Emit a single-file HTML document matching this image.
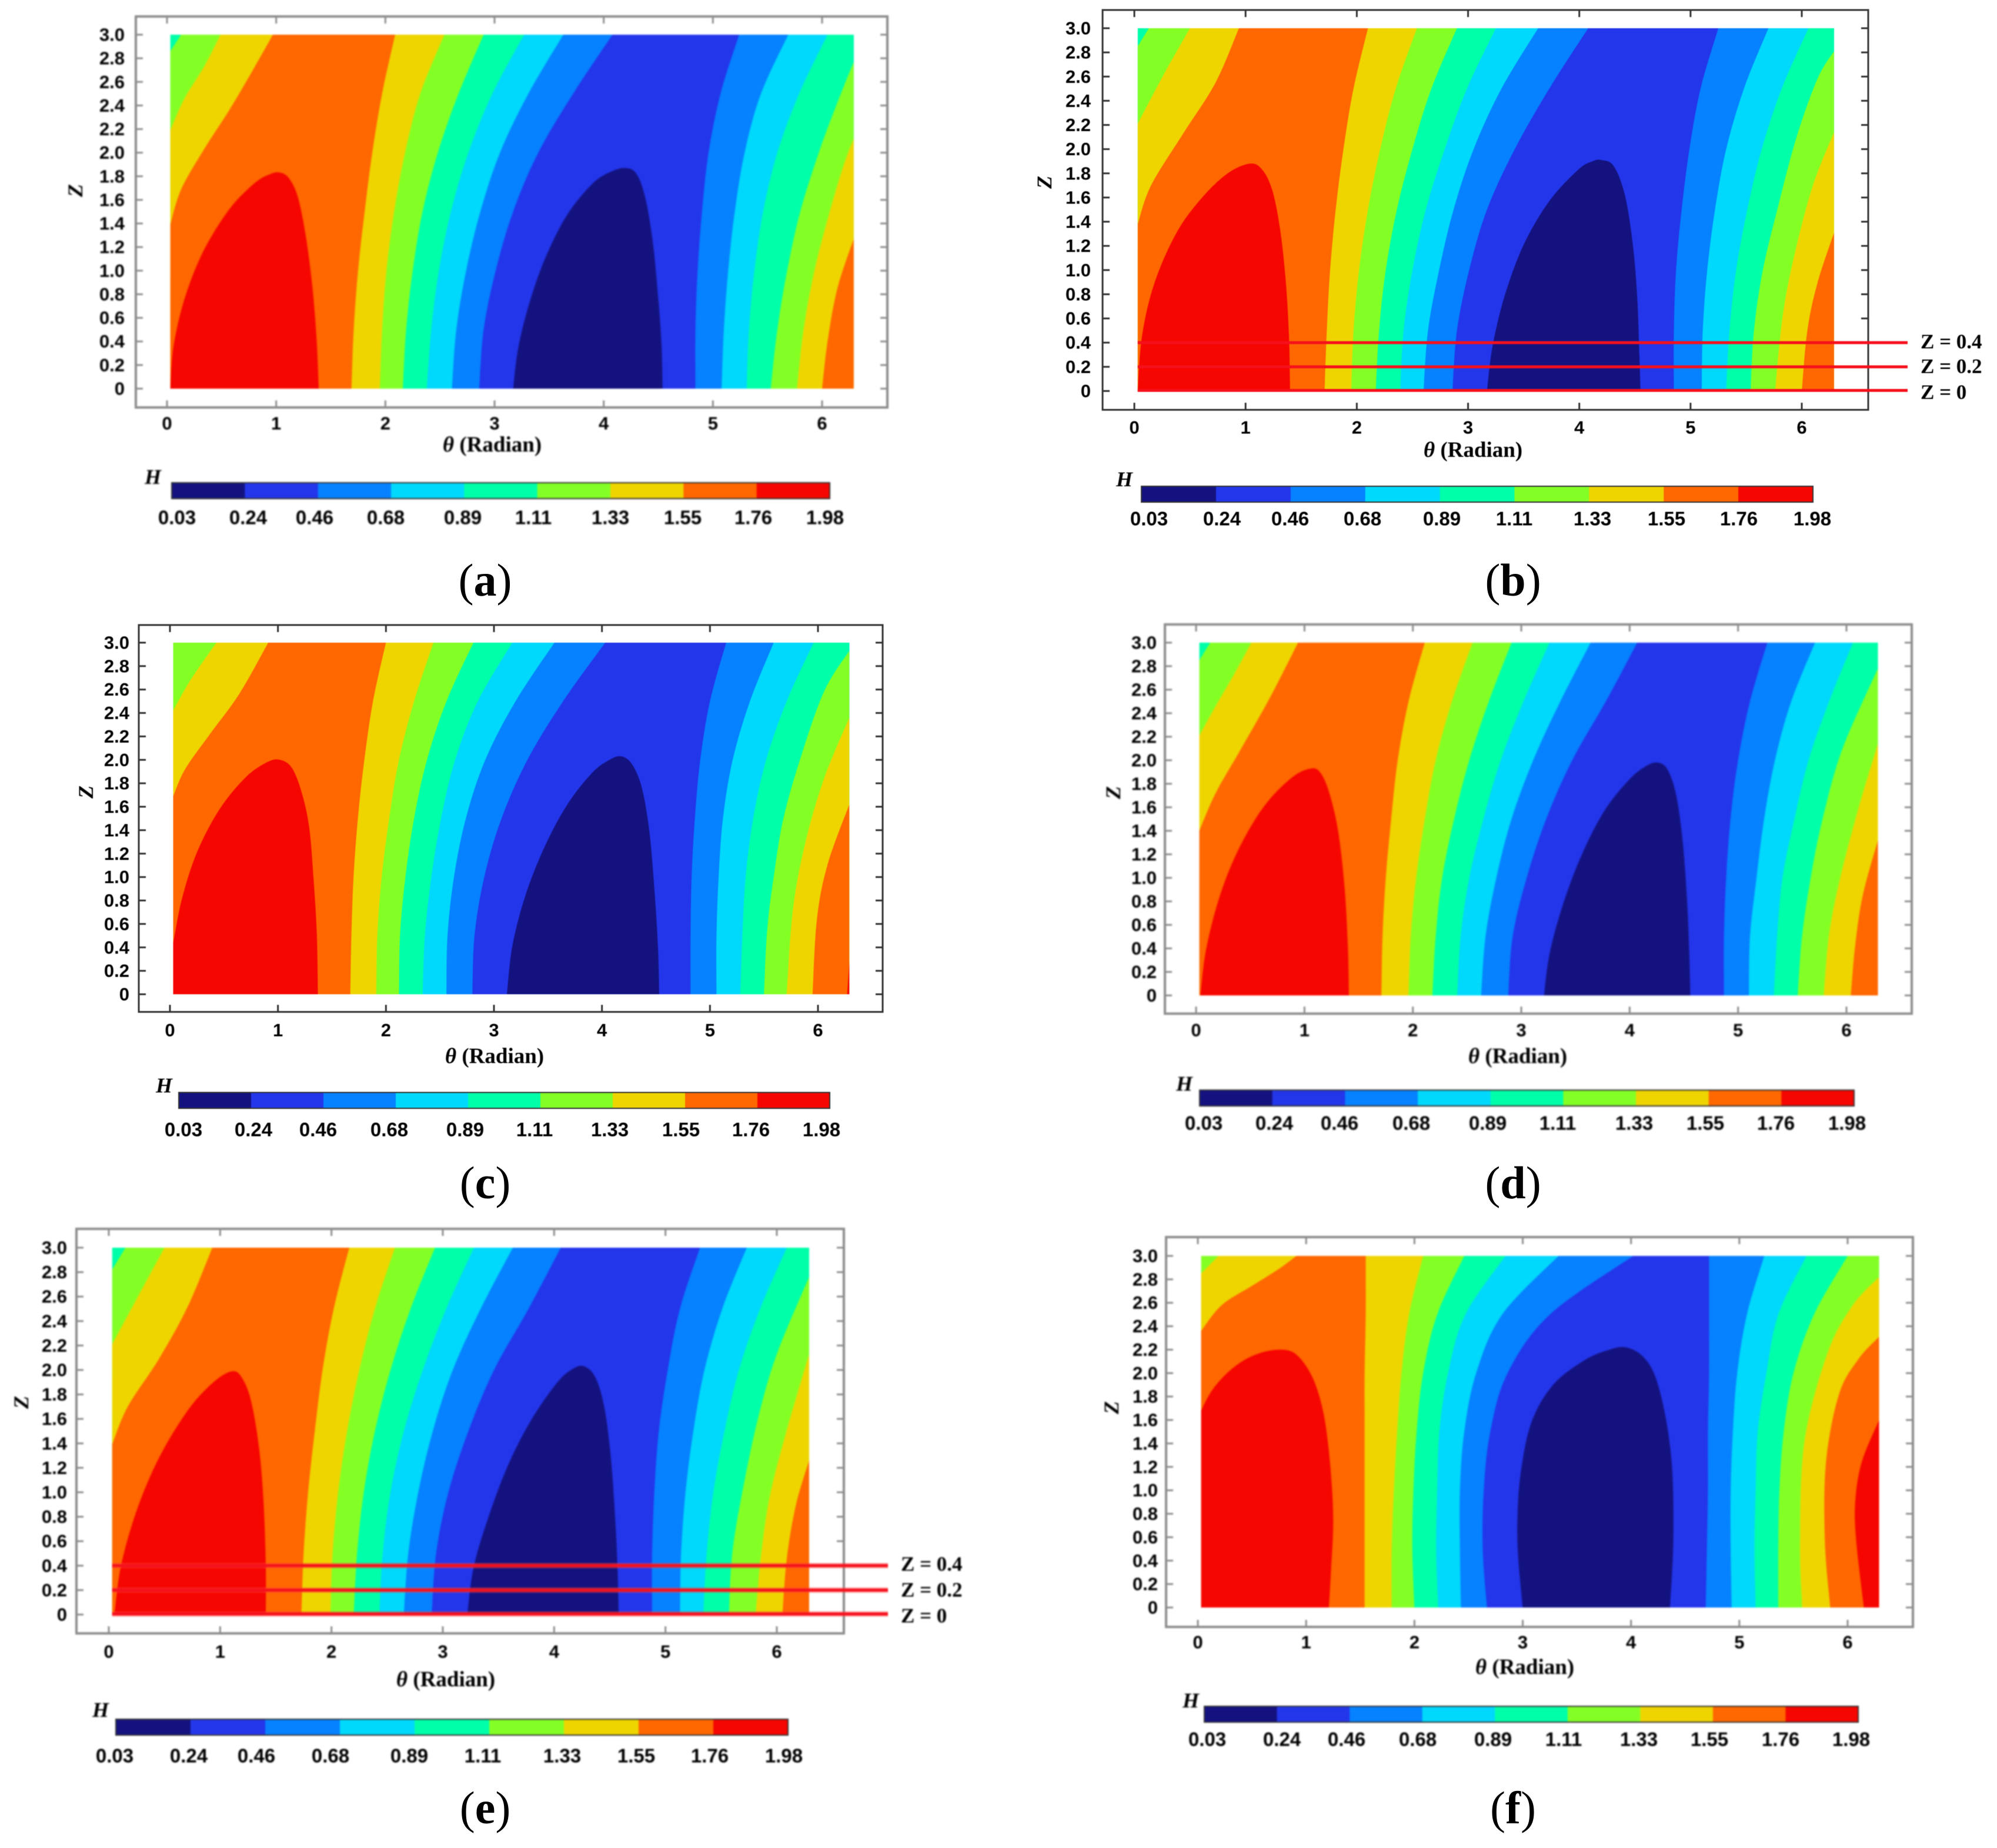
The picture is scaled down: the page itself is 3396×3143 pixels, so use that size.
<!DOCTYPE html>
<html lang="en">
<head>
<meta charset="utf-8">
<title>Film thickness contour maps H(θ, Z)</title>
<style>
html,body{margin:0;padding:0;background:#fff;}
svg{display:block;}
.tick{font:bold 31px "Liberation Sans",Arial,sans-serif;fill:#000;}
.cbl{font:bold 33px "Liberation Sans",Arial,sans-serif;fill:#000;}
.ttl{font:bold 37px "Liberation Serif","Times New Roman",serif;fill:#000;}
.ital{font:italic bold 36px "Liberation Serif","Times New Roman",serif;fill:#000;}
.cap{font:78px "Liberation Serif","Times New Roman",serif;fill:#000;}
.zl{font:bold 35px "Liberation Serif","Times New Roman",serif;fill:#000;}
</style>
</head>
<body>
<svg id="figure" xmlns="http://www.w3.org/2000/svg" width="3396" height="3143" viewBox="0 0 3396 3143">
<rect width="3396" height="3143" fill="#ffffff"/>
</svg>
<script>
/* ---------- shared scales and labels ---------- */
const zRows = [0, 0.5, 1, 1.5, 2, 2.5, 3];
const thetaTicks = [0, 1, 2, 3, 4, 5, 6];
const zTicks = [0, 0.2, 0.4, 0.6, 0.8, 1.0, 1.2, 1.4, 1.6, 1.8, 2.0, 2.2, 2.4, 2.6, 2.8, 3.0];
const colorbarLabels = ['0.03', '0.24', '0.46', '0.68', '0.89', '1.11', '1.33', '1.55', '1.76', '1.98'];
const monitorLevels = [0.4, 0.2, 0];
const monitorLabels = ['Z = 0.4', 'Z = 0.2', 'Z = 0'];
const thetaMin = 0.03, thetaMax = 6.29, zMin = 0, zMax = 3;
const bandColors = ['#14127f', '#2336ea', '#0681ff', '#00d8fc', '#00ffa9', '#84ff26', '#efd500', '#ff6700', '#f50600'];
const rightBands = [6, 5, 4, 3, 2, 1, 2, 3, 4, 5, 6, 7, 8];

/* ---------- panel (a) contours: theta at zRows, or [theta, Z] pairs ---------- */
const aLeft = [[[0.03,2.86],[0.13,3]], [[0.03,2.19],[0.16,2.46],[0.34,2.73],[0.49,3]], [[0.03,1.39],[0.13,1.69],[0.34,2.03],[0.57,2.36],[0.78,2.69],[0.97,3]]];
const aRise = [[1.69,1.71,1.75,1.81,1.88,1.97,2.09],[1.95,1.97,2.01,2.08,2.18,2.32,2.54],[2.16,2.19,2.25,2.34,2.48,2.67,2.90],[2.38,2.42,2.49,2.60,2.76,2.98,3.27],[2.61,2.65,2.74,2.87,3.05,3.31,3.63],[2.86,2.90,3.01,3.17,3.40,3.72,4.08],[4.84,4.84,4.86,4.90,4.96,5.07,5.24],[5.08,5.10,5.14,5.20,5.29,5.44,5.69],[5.31,5.33,5.38,5.46,5.59,5.79,6.05]];
const aExit = [[[5.53,0],[5.59,0.5],[5.68,1],[5.80,1.5],[5.97,2],[6.13,2.4],[6.29,2.77]], [[5.77,0],[5.83,0.5],[5.93,1],[6.07,1.5],[6.2,1.9],[6.29,2.12]], [[6.0,0],[6.05,0.4],[6.14,0.85],[6.29,1.27]]];
const aPeak = [[0.03,0],[0.06,0.36],[0.16,0.76],[0.33,1.16],[0.57,1.52],[0.80,1.74],[0.95,1.82],[1.04,1.83],[1.12,1.78],[1.20,1.62],[1.27,1.30],[1.33,0.88],[1.37,0.42],[1.39,0]];
const aTrough = [[3.17,0],[3.22,0.36],[3.33,0.76],[3.48,1.14],[3.67,1.48],[3.90,1.74],[4.07,1.84],[4.20,1.87],[4.30,1.82],[4.38,1.62],[4.45,1.24],[4.50,0.76],[4.53,0.36],[4.54,0]];

/* ---------- panel (b) ---------- */
const bLeft = [[[0.03,2.85],[0.13,3]], [[0.03,2.21],[0.26,2.61],[0.50,3]], [[0.03,1.38],[0.15,1.70],[0.44,2.13],[0.73,2.55],[0.94,3]]];
const bRise = [[1.71,1.73,1.76,1.81,1.88,1.97,2.10],[1.95,1.97,2.02,2.10,2.21,2.35,2.54],[2.17,2.20,2.26,2.36,2.50,2.67,2.90],[2.39,2.42,2.50,2.62,2.79,2.99,3.25],[2.60,2.64,2.74,2.87,3.05,3.30,3.63],[2.86,2.90,3.01,3.17,3.42,3.73,4.08],[4.85,4.85,4.87,4.92,4.99,5.09,5.25],[5.10,5.11,5.15,5.22,5.32,5.48,5.70],[5.32,5.35,5.41,5.51,5.64,5.82,6.06]];
const bExit = [[[5.54,0],[5.57,0.5],[5.65,1],[5.78,1.5],[5.95,2.09],[6.14,2.58],[6.29,2.81]], [[5.76,0],[5.83,0.63],[5.94,1.15],[6.10,1.7],[6.29,2.14]], [[6.0,0],[6.05,0.5],[6.14,0.89],[6.29,1.31]]];
const bPeak = [[0.03,0],[0.07,0.46],[0.18,0.89],[0.38,1.31],[0.61,1.6],[0.84,1.8],[1.04,1.88],[1.15,1.83],[1.24,1.66],[1.31,1.34],[1.36,0.92],[1.39,0.46],[1.40,0]];
const bTrough = [[3.17,0],[3.22,0.37],[3.33,0.79],[3.50,1.21],[3.73,1.57],[3.99,1.83],[4.12,1.90],[4.20,1.91],[4.31,1.86],[4.41,1.62],[4.48,1.22],[4.52,0.79],[4.54,0.3],[4.55,0]];

/* ---------- panel (c) ---------- */
const cLeft = [[[0.03,2.42],[0.19,2.68],[0.43,3]], [[0.03,1.69],[0.14,1.92],[0.37,2.22],[0.64,2.56],[0.91,3]]];
const cRise = [[1.67,1.68,1.70,1.74,1.80,1.88,2.0],[1.91,1.92,1.96,2.03,2.12,2.26,2.44],[2.12,2.13,2.18,2.26,2.38,2.56,2.81],[2.34,2.36,2.42,2.51,2.64,2.85,3.17],[2.56,2.57,2.63,2.74,2.92,3.20,3.56],[2.80,2.82,2.91,3.07,3.31,3.64,4.03],[4.82,4.82,4.83,4.86,4.91,5.0,5.15],[5.06,5.06,5.08,5.12,5.21,5.37,5.59],[5.28,5.30,5.33,5.40,5.52,5.71,5.96]];
const cExit = [[[5.50,0],[5.53,0.55],[5.59,1],[5.68,1.5],[5.85,2.05],[6.06,2.59],[6.29,2.93]], [[5.71,0],[5.77,0.74],[5.89,1.32],[6.06,1.85],[6.29,2.36]], [[5.95,0],[5.99,0.64],[6.09,1.11],[6.29,1.62]], [[6.27,0],[6.29,0.27]]];
const cPeak = [[-0.2,0],[-0.04,0.15],[0.03,0.44],[0.11,0.81],[0.25,1.21],[0.46,1.58],[0.70,1.85],[0.90,1.98],[1.02,2.0],[1.13,1.93],[1.22,1.72],[1.29,1.42],[1.33,0.98],[1.36,0.51],[1.37,0]];
const cTrough = [[3.12,0],[3.17,0.41],[3.29,0.84],[3.47,1.26],[3.68,1.62],[3.91,1.89],[4.07,2.0],[4.18,2.03],[4.28,1.96],[4.37,1.76],[4.44,1.38],[4.49,0.84],[4.52,0.37],[4.53,0]];

/* ---------- panel (d) ---------- */
const dLeft = [[[0.03,2.85],[0.13,3]], [[0.03,2.21],[0.18,2.46],[0.35,2.73],[0.51,3]], [[0.03,1.40],[0.18,1.72],[0.41,2.09],[0.68,2.53],[0.94,3]]];
const dRise = [[1.71,1.72,1.75,1.80,1.86,1.96,2.11],[1.96,1.98,2.03,2.11,2.21,2.36,2.55],[2.18,2.21,2.27,2.38,2.52,2.70,2.91],[2.41,2.44,2.52,2.65,2.81,3.02,3.26],[2.63,2.67,2.77,2.91,3.11,3.36,3.64],[2.88,2.92,3.05,3.23,3.47,3.78,4.07],[4.87,4.87,4.89,4.93,5.00,5.11,5.27],[5.10,5.11,5.17,5.24,5.34,5.49,5.71],[5.33,5.36,5.41,5.52,5.65,5.84,6.06]];
const dExit = [[[5.55,0],[5.59,0.5],[5.67,1],[5.78,1.5],[5.96,2.09],[6.29,2.78]], [[5.79,0],[5.84,0.52],[5.94,0.99],[6.11,1.59],[6.29,2.14]], [[6.04,0],[6.08,0.42],[6.15,0.85],[6.29,1.32]]];
const dPeak = [[0.04,0],[0.09,0.38],[0.21,0.82],[0.38,1.22],[0.62,1.60],[0.88,1.85],[1.06,1.93],[1.15,1.89],[1.23,1.72],[1.31,1.40],[1.37,0.92],[1.40,0.42],[1.41,0]];
const dTrough = [[3.21,0],[3.26,0.35],[3.38,0.76],[3.55,1.18],[3.76,1.56],[3.99,1.83],[4.15,1.95],[4.26,1.98],[4.35,1.92],[4.43,1.70],[4.49,1.30],[4.53,0.80],[4.55,0.35],[4.56,0]];

/* ---------- panel (e) ---------- */
const eLeft = [[[0.03,2.82],[0.15,3]], [[0.03,2.21],[0.25,2.58],[0.50,3]], [[0.03,1.39],[0.17,1.70],[0.45,2.09],[0.71,2.52],[0.93,3]]];
const eRise = [[1.73,1.75,1.79,1.85,1.92,2.02,2.16],[1.99,2.01,2.06,2.14,2.25,2.39,2.57],[2.20,2.23,2.29,2.39,2.53,2.71,2.93],[2.43,2.46,2.53,2.65,2.82,3.03,3.28],[2.65,2.69,2.78,2.91,3.09,3.34,3.63],[2.90,2.94,3.05,3.23,3.46,3.77,4.06],[4.88,4.88,4.90,4.94,5.02,5.13,5.31],[5.13,5.14,5.18,5.25,5.35,5.51,5.73],[5.34,5.37,5.43,5.53,5.66,5.85,6.09]];
const eExit = [[[5.57,0],[5.60,0.5],[5.69,1],[5.83,1.6],[6.0,2.13],[6.29,2.76]], [[5.81,0],[5.86,0.5],[5.94,0.98],[6.09,1.51],[6.29,2.13]], [[6.05,0],[6.09,0.46],[6.17,0.89],[6.29,1.26]]];
const ePeak = [[0.05,0],[0.11,0.4],[0.25,0.85],[0.45,1.28],[0.71,1.67],[0.94,1.9],[1.11,1.99],[1.20,1.93],[1.28,1.74],[1.35,1.36],[1.39,0.92],[1.41,0.4],[1.41,0]];
const eTrough = [[3.22,0],[3.28,0.4],[3.43,0.85],[3.60,1.25],[3.80,1.6],[4.03,1.9],[4.17,2.01],[4.27,2.03],[4.37,1.94],[4.45,1.70],[4.51,1.28],[4.55,0.76],[4.57,0.36],[4.58,0]];

/* ---------- panel (f) ---------- */
const fLeft = [[[0.03,2.85],[0.19,3]], [[0.03,2.36],[0.22,2.58],[0.51,2.75],[0.75,2.89],[0.91,3]]];
const fRise = [[1.54,1.54,1.54,1.54,1.54,1.55,1.55],[1.79,1.79,1.81,1.84,1.88,1.95,2.08],[2.0,1.98,1.99,2.02,2.08,2.21,2.46],[2.22,2.20,2.21,2.23,2.31,2.47,2.84],[2.43,2.42,2.42,2.46,2.57,2.81,3.33],[2.67,2.63,2.64,2.70,2.86,3.25,4.02],[4.69,4.70,4.71,4.71,4.72,4.72,4.72],[4.93,4.92,4.92,4.94,4.98,5.07,5.23],[5.15,5.14,5.15,5.17,5.25,5.36,5.62],[5.36,5.36,5.37,5.41,5.50,5.69,6.0]];
const fExit = [[[5.58,0],[5.56,0.56],[5.60,1.41],[5.81,2.16],[6.04,2.57],[6.29,2.82]], [[5.84,0],[5.79,0.56],[5.80,1.24],[5.92,1.82],[6.10,2.12],[6.29,2.31]], [[6.15,0],[6.08,0.56],[6.07,0.9],[6.13,1.24],[6.29,1.6]]];
const fPeak = [[-0.2,0],[-0.1,1.4],[0.03,1.68],[0.16,1.89],[0.36,2.07],[0.57,2.17],[0.78,2.2],[0.92,2.15],[1.06,1.96],[1.16,1.66],[1.22,1.24],[1.25,0.76],[1.23,0.32],[1.21,0]];
const fTrough = [[3.0,0],[2.96,0.4],[2.95,0.73],[2.98,1.14],[3.08,1.58],[3.28,1.90],[3.57,2.11],[3.80,2.2],[3.95,2.22],[4.10,2.15],[4.22,1.98],[4.32,1.62],[4.38,1.17],[4.39,0.56],[4.36,0]];

/* ---------- page layout of each panel ---------- */
const layouts = [
 {id:'a',left:aLeft,rise:aRise,exit:aExit,peak:aPeak,trough:aTrough,frame:[231,28,1509,693],t0:284,t6:1398,z0:661,z3:59,cb:[292,821,1411,848],cbY:880,cbX:[301,422,535,656,787,907,1038,1161,1281,1403],H:[260,811],Z:[128,324],xt:[837,756],tr:212,xl:720,cap:[825,986],blur:1.3,fc:'#8c8c8c',fw:4},
 {id:'b',left:bLeft,rise:bRise,exit:bExit,peak:bPeak,trough:bTrough,frame:[1875,17,3177,697],t0:1929,t6:3064,z0:665,z3:48,cb:[1941,827,3083,854],cbY:882,cbX:[1954,2078,2194,2317,2452,2575,2708,2834,2957,3082],H:[1912,815],Z:[1776,310],xt:[2505,765],tr:1855,xl:727,cap:[2573,986],blur:0.5,fc:'#333333',fw:3,lineEnd:3244,lineLabelX:[3266,3374],lineLabelY:[581,623,667]},
 {id:'c',left:cLeft,rise:cRise,exit:cExit,peak:cPeak,trough:cTrough,frame:[236,1063,1501,1721],t0:289,t6:1391,z0:1691,z3:1093,cb:[304,1858,1411,1885],cbY:1921,cbX:[312,431,541,662,791,909,1037,1158,1277,1397],H:[279,1846],Z:[146,1347],xt:[841,1796],tr:220,xl:1752,cap:[825,2011],blur:0.5,fc:'#333333',fw:3},
 {id:'d',left:dLeft,rise:dRise,exit:dExit,peak:dPeak,trough:dTrough,frame:[1981,1062,3251,1724],t0:2034,t6:3140,z0:1693,z3:1093,cb:[2040,1854,3153,1881],cbY:1910,cbX:[2047,2167,2278,2400,2530,2649,2779,2900,3020,3141],H:[2014,1843],Z:[1893,1348],xt:[2581,1796],tr:1967,xl:1752,cap:[2573,2011],blur:1.3,fc:'#8c8c8c',fw:4},
 {id:'e',left:eLeft,rise:eRise,exit:eExit,peak:ePeak,trough:eTrough,frame:[130,2090,1435,2778],t0:185,t6:1321,z0:2746,z3:2122,cb:[197,2924,1340,2951],cbY:2986,cbX:[195,321,436,562,696,821,956,1082,1207,1333],H:[171,2908],Z:[36,2385],xt:[758,2856],tr:114,xl:2809,cap:[825,3074],blur:1.3,fc:'#8c8c8c',fw:4,lineEnd:1510,lineLabelX:[1532,1641],lineLabelY:[2660,2704,2748]},
 {id:'f',left:fLeft,rise:fRise,exit:fExit,peak:fPeak,trough:fTrough,frame:[1983,2104,3253,2767],t0:2037,t6:3142,z0:2734,z3:2136,cb:[2048,2902,3160,2929],cbY:2958,cbX:[2053,2180,2290,2411,2539,2659,2787,2907,3028,3148],H:[2025,2892],Z:[1890,2394],xt:[2593,2835],tr:1969,xl:2793,cap:[2573,3074],blur:1.3,fc:'#8c8c8c',fw:4}
];

/* ---------- rendering ---------- */
const svgNS = 'http://www.w3.org/2000/svg';
const root = document.getElementById('figure');

function make(tag, parent, attrs) {
  const n = document.createElementNS(svgNS, tag);
  for (const k in attrs) n.setAttribute(k, attrs[k]);
  parent.appendChild(n);
  return n;
}
function smoothPath(pts) {
  let d = 'M' + pts[0][0].toFixed(1) + ' ' + pts[0][1].toFixed(1);
  for (let i = 0; i < pts.length - 1; i++) {
    const p0 = pts[Math.max(i - 1, 0)], p1 = pts[i], p2 = pts[i + 1], p3 = pts[Math.min(i + 2, pts.length - 1)];
    const c1x = p1[0] + (p2[0] - p0[0]) / 6, c1y = p1[1] + (p2[1] - p0[1]) / 6;
    const c2x = p2[0] - (p3[0] - p1[0]) / 6, c2y = p2[1] - (p3[1] - p1[1]) / 6;
    d += 'C' + c1x.toFixed(1) + ' ' + c1y.toFixed(1) + ' ' + c2x.toFixed(1) + ' ' + c2y.toFixed(1) + ' ' + p2[0].toFixed(1) + ' ' + p2[1].toFixed(1);
  }
  return d;
}
function rowsToPairs(thetas) {
  return thetas.map((t, i) => [t, zRows[i]]);
}

layouts.forEach(function (p) {
  const xs = t => p.t0 + t * (p.t6 - p.t0) / 6;
  const ys = z => p.z0 - z * (p.z0 - p.z3) / 3;
  const toPx = pts => pts.map(q => [xs(q[0]), ys(q[1])]);

  const g = make('g', root, {style: 'filter:blur(' + p.blur + 'px)'});
  
  

  const clip = make('clipPath', g, {id: 'clip-' + p.id});
  make('rect', clip, {x: xs(thetaMin), y: ys(zMax), width: xs(thetaMax) - xs(thetaMin), height: ys(zMin) - ys(zMax)});

  const field = make('g', g, {'clip-path': 'url(#clip-' + p.id + ')'});
  
  

  const base = make('rect', field, {x: xs(thetaMin), y: ys(zMax), width: xs(thetaMax) - xs(thetaMin), height: ys(zMin) - ys(zMax), fill: bandColors[7 - p.left.length]});
  
  

  /* each edge paints everything to its right with the next band colour */
  function paintEdge(pairs, band) {
    const last = pairs[pairs.length - 1], first = pairs[0];
    let d = smoothPath(toPx(pairs));
    if (last[1] >= zMax) d += 'L' + (xs(thetaMax) + 5) + ' ' + ys(zMax);
    d += 'L' + (xs(thetaMax) + 5) + ' ' + (ys(zMin) + 5);
    if (first[1] > zMin) {
      d += 'L' + xs(thetaMin) + ' ' + (ys(zMin) + 5) + 'Z';
    } else {
      d += 'L' + xs(first[0]) + ' ' + (ys(zMin) + 5) + 'Z';
    }
    const band_ = make('path', field, {d: d, fill: bandColors[band]});
    
    
  }
  p.left.forEach(function (pairs, i) {
    paintEdge(pairs, 8 - p.left.length + i);
  });
  const rightEdges = p.rise.map(rowsToPairs).concat(p.exit);
  rightEdges.forEach(function (pairs, i) {
    paintEdge(pairs, rightBands[i]);
  });

  const peak = make('path', field, {d: smoothPath(toPx(p.peak)) + 'Z', fill: bandColors[8]});
  
  
  const trough = make('path', field, {d: smoothPath(toPx(p.trough)) + 'Z', fill: bandColors[0]});
  
  

  /* frame */
  const f = p.frame;
  const frame = make('rect', g, {x: f[0], y: f[1], width: f[2] - f[0], height: f[3] - f[1], fill: 'none', stroke: p.fc, 'stroke-width': p.fw});
  
  

  /* ticks */
  const tickLen = 12;
  thetaTicks.forEach(function (t) {
    const x = xs(t);
    const a = make('line', g, {x1: x, x2: x, y1: f[3], y2: f[3] - tickLen, stroke: p.fc, 'stroke-width': 3});
    
    
    const b = make('line', g, {x1: x, x2: x, y1: f[1], y2: f[1] + tickLen, stroke: p.fc, 'stroke-width': 3});
    
    
    const l = make('text', g, {x: x, y: p.xl, 'text-anchor': 'middle', 'dominant-baseline': 'central', class: 'tick'});
    
    
    l.textContent = t;
  });
  zTicks.forEach(function (z) {
    const y = ys(z);
    const a = make('line', g, {x1: f[0], x2: f[0] + tickLen, y1: y, y2: y, stroke: p.fc, 'stroke-width': 3});
    
    
    const b = make('line', g, {x1: f[2], x2: f[2] - tickLen, y1: y, y2: y, stroke: p.fc, 'stroke-width': 3});
    
    
    const l = make('text', g, {x: p.tr, y: y, 'text-anchor': 'end', 'dominant-baseline': 'central', class: 'tick'});
    
    
    l.textContent = z === 0 ? '0' : z.toFixed(1);
  });

  /* axis titles */
  const xt = make('text', g, {x: p.xt[0], y: p.xt[1], 'text-anchor': 'middle', 'dominant-baseline': 'central', class: 'ttl'});
  
  
  const th = make('tspan', xt, {'font-style': 'italic'});
  th.textContent = 'θ';
  const rad = make('tspan', xt, {});
  rad.textContent = ' (Radian)';

  const zt = make('text', g, {x: p.Z[0], y: p.Z[1], 'text-anchor': 'middle', 'dominant-baseline': 'central', class: 'ital', transform: 'rotate(-90 ' + p.Z[0] + ' ' + p.Z[1] + ')'});
  
  
  zt.textContent = 'Z';

  /* colour bar */
  const cb = p.cb, segW = (cb[2] - cb[0]) / bandColors.length;
  bandColors.forEach(function (c, i) {
    const s = make('rect', g, {x: cb[0] + i * segW, y: cb[1], width: segW + 0.5, height: cb[3] - cb[1], fill: c});
    
    
  });
  const cbOut = make('rect', g, {x: cb[0], y: cb[1], width: cb[2] - cb[0], height: cb[3] - cb[1], fill: 'none', stroke: '#333', 'stroke-width': 2});
  
  
  colorbarLabels.forEach(function (s, i) {
    const l = make('text', g, {x: p.cbX[i], y: p.cbY, 'text-anchor': 'middle', 'dominant-baseline': 'central', class: 'cbl'});
    
    
    l.textContent = s;
  });
  const h = make('text', g, {x: p.H[0], y: p.H[1], 'text-anchor': 'middle', 'dominant-baseline': 'central', class: 'ital'});
  
  
  h.textContent = 'H';

  /* monitoring lines */
  if (p.lineEnd) {
    monitorLevels.forEach(function (z, i) {
      const y = ys(z) - (z === 0 ? 1 : 0);
      if (p.blur > 1) {
        const halo = make('line', g, {x1: xs(thetaMin), x2: p.lineEnd, y1: y, y2: y, stroke: '#ff4040', 'stroke-opacity': 0.5, 'stroke-width': 9});
        
        
      }
      const ln = make('line', g, {x1: xs(thetaMin), x2: p.lineEnd, y1: y, y2: y, stroke: '#f5101c', 'stroke-width': 5});
      
      
      const lb = make('text', g, {x: p.lineLabelX[0], y: p.lineLabelY[i], 'dominant-baseline': 'central', class: 'zl'});
      
      
      lb.textContent = monitorLabels[i];
    });
  }

  /* caption */
  const cap = make('text', root, {x: p.cap[0], y: p.cap[1], 'text-anchor': 'middle', 'dominant-baseline': 'central', class: 'cap'});
  
  
  const o = make('tspan', cap, {});
  o.textContent = '(';
  const letter = make('tspan', cap, {'font-weight': 'bold'});
  letter.textContent = p.id;
  const e = make('tspan', cap, {});
  e.textContent = ')';
});
</script>
</body>
</html>
